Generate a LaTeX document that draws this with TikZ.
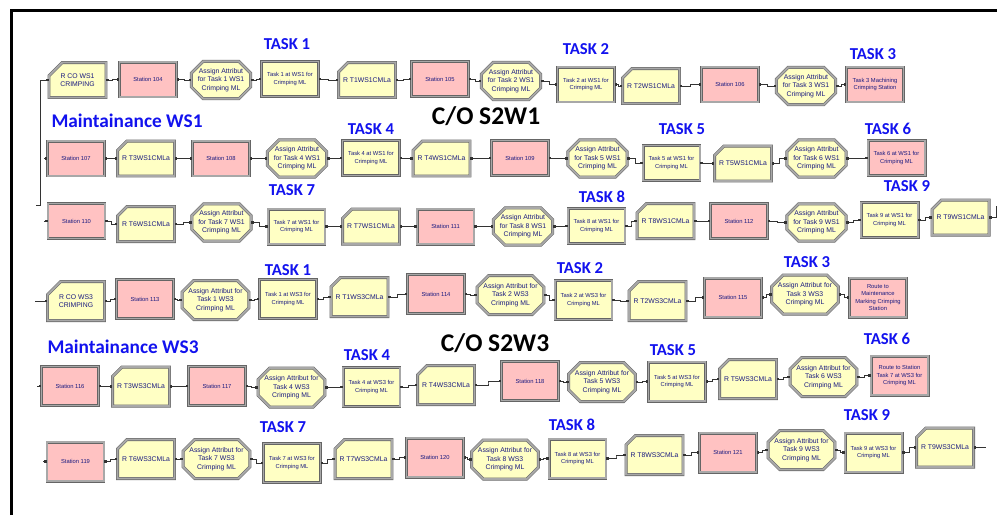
\documentclass[tikz,border=0pt]{standalone}
\usepackage{fontspec}
\setmainfont{Liberation Sans}
\newfontfamily\lblfont{Carlito}
\usetikzlibrary{shapes.misc,arrows.meta,positioning,calc}
\definecolor{modyellow}{HTML}{FFFFC4}
\definecolor{modpink}{HTML}{FFC2C2}
\definecolor{modedge}{HTML}{A8A8A8}
\definecolor{modtext}{HTML}{1A1A80}
\definecolor{taskblue}{HTML}{1212EE}
\newcommand\modh{0.7cm}

\begin{document}
\begin{tikzpicture}[
  x=0.02cm, y=0.02cm,
  mod/.style={draw=modedge!60!black, double=modedge, double distance=1.1pt,
              line width=0.3pt, minimum width=1.14cm, minimum height=\modh,
              inner sep=0.5pt, align=center, text=modtext,
              font=\fontsize{3.3}{4.2}\selectfont},
  stn/.style={mod,rectangle,fill=modpink},
  prc/.style={mod,rectangle,fill=modyellow},
  pnk/.style={prc,fill=modpink},
  rte/.style={mod,chamfered rectangle,chamfered rectangle corners=north west,
              chamfered rectangle xsep=0.14cm,fill=modyellow,
              font=\fontsize{3.9}{4.8}\selectfont},
  asg/.style={mod,chamfered rectangle,chamfered rectangle xsep=0.11cm,
              fill=modyellow,font=\fontsize{3.9}{4.8}\selectfont},
  task/.style={font=\lblfont\bfseries\fontsize{9.5}{11}\selectfont,
               text=taskblue,inner sep=0pt},
  hdr/.style={font=\lblfont\bfseries\fontsize{11}{13}\selectfont,
              text=taskblue,inner sep=0pt},
  co/.style={font=\lblfont\bfseries\fontsize{14.5}{16}\selectfont,inner sep=0pt},
  cn/.style={line width=0.45pt,black!80,
             {Square[length=1.4pt,width=1.4pt]}-{Square[length=1.4pt,width=1.4pt]}},
  elbow/.style={to path={-| ($(\tikztostart)!.5!(\tikztotarget)$) |- (\tikztotarget)}}
]
\useasboundingbox (0,0) rectangle (997,-515);
\draw[line width=1.8pt] (11.5,-515) |- (997,-10.5);

% C/O S2W1
\node[rte] (r1a) at (77.5,-80) {R CO WS1\\CRIMPING};
\node[stn] (r1b) at (148,-79.5) {Station 104};
\node[asg] (r1c) at (221,-80) {Assign Attribut\\for Task 1 WS1\\Crimping ML};
\node[prc] (r1d) at (290,-79) {Task 1 at WS1 for\\Crimping ML};
\node[rte] (r1e) at (367,-80) {R T1WS1CMLa};
\node[stn] (r1f) at (440,-79) {Station 105};
\node[asg] (r1g) at (511,-81) {Assign Attribut\\for Task 2 WS1\\Crimping ML};
\node[prc] (r1h) at (586,-84.5) {Task 2 at WS1 for\\Crimping ML};
\node[rte] (r1i) at (651,-86) {R T2WS1CMLa};
\node[stn] (r1j) at (730,-84.5) {Station 106};
\node[asg] (r1k) at (806,-86) {Assign Attribut\\for Task 3 WS1\\Crimping ML};
\node[pnk] (r1l) at (875,-84.5) {Task 3 Machining\\Crimping Station};

\node[stn] (r2a) at (76,-158.5) {Station 107};
\node[rte] (r2b) at (146,-158.5) {R T3WS1CMLa};
\node[stn] (r2c) at (221,-158.5) {Station 108};
\node[asg] (r2d) at (297,-158.5) {Assign Attribut\\for Task 4 WS1\\Crimping ML};
\node[prc] (r2e) at (371,-158) {Task 4 at WS1 for\\Crimping ML};
\node[rte] (r2f) at (441.5,-158.5) {R T4WS1CMLa};
\node[stn] (r2g) at (520,-158) {Station 109};
\node[asg] (r2h) at (597.5,-158.5) {Assign Attribut\\for Task 5 WS1\\Crimping ML};
\node[prc] (r2i) at (671.5,-163) {Task 5 at WS1 for\\Crimping ML};
\node[rte] (r2j) at (743,-163.5) {R T5WS1CMLa};
\node[asg] (r2k) at (816.5,-158.5) {Assign Attribut\\for Task 6 WS1\\Crimping ML};
\node[pnk] (r2l) at (896.5,-158) {Task 6 at WS1 for\\Crimping ML};

\node[stn] (r3a) at (76.5,-221) {Station 110};
\node[rte] (r3b) at (146,-224) {R T6WS1CMLa};
\node[asg] (r3c) at (221.5,-222.5) {Assign Attribut\\for Task 7 WS1\\Crimping ML};
\node[prc] (r3d) at (296.5,-226.5) {Task 7 at WS1 for\\Crimping ML};
\node[rte] (r3e) at (371,-226.5) {R T7WS1CMLa};
\node[stn] (r3f) at (445.5,-226.5) {Station 111};
\node[asg] (r3g) at (523,-226.5) {Assign Attribut\\for Task 8 WS1\\Crimping ML};
\node[prc] (r3h) at (596.5,-226) {Task 8 at WS1 for\\Crimping ML};
\node[rte] (r3i) at (665.5,-221) {R T8WS1CMLa};
\node[stn] (r3j) at (739,-221) {Station 112};
\node[asg] (r3k) at (816.5,-222.5) {Assign Attribut\\for Task 9 WS1\\Crimping ML};
\node[prc] (r3l) at (889.5,-220) {Task 9 at WS1 for\\Crimping ML};
\node[rte] (r3m) at (960.5,-217.5) {R T9WS1CMLa};

% C/O S2W3
\renewcommand\modh{0.78cm}
\node[rte] (r4a) at (76,-301) {R CO WS3\\CRIMPING};
\node[stn] (r4b) at (145,-299) {Station 113};
\node[asg] (r4c) at (215.5,-300) {Assign Attribut for\\Task 1 WS3\\Crimping ML};
\node[prc] (r4d) at (288,-299) {Task 1 at WS3 for\\Crimping ML};
\node[rte] (r4e) at (359.5,-297) {R T1WS3CMLa};
\node[stn] (r4f) at (436,-294) {Station 114};
\node[asg] (r4g) at (510.5,-295) {Assign Attribut for\\Task 2 WS3\\Crimping ML};
\node[prc] (r4h) at (583.5,-300) {Task 2 at WS3 for\\Crimping ML};
\node[rte] (r4i) at (657.5,-301) {R T2WS3CMLa};
\node[stn] (r4j) at (733,-297.5) {Station 115};
\node[asg] (r4k) at (805,-294.5) {Assign Attribut for\\Task 3 WS3\\Crimping ML};
\node[pnk] (r4l) at (878,-297.5) {Route to\\Maintenance\\Marking Crimping\\Station};

\node[stn] (r5a) at (70,-386) {Station 116};
\node[rte] (r5b) at (141,-386.5) {R T3WS3CMLa};
\node[stn] (r5c) at (217,-386) {Station 117};
\node[asg] (r5d) at (291.5,-387.5) {Assign Attribut for\\Task 4 WS3\\Crimping ML};
\node[prc] (r5e) at (371.5,-387) {Task 4 at WS3 for\\Crimping ML};
\node[rte] (r5f) at (446,-385) {R T4WS3CMLa};
\node[stn] (r5g) at (530,-381) {Station 118};
\node[asg] (r5h) at (602,-382) {Assign Attribut for\\Task 5 WS3\\Crimping ML};
\node[prc] (r5i) at (677,-381.5) {Task 5 at WS3 for\\Crimping ML};
\node[rte] (r5j) at (748,-379) {R T5WS3CMLa};
\node[asg] (r5k) at (823.5,-377) {Assign Attribut for\\Task 6 WS3\\Crimping ML};
\node[pnk] (r5l) at (899.5,-375.5) {Route to Station\\Task 7 at WS3 for\\Crimping ML};

\node[stn] (r6a) at (75.5,-461.5) {Station 119};
\node[rte] (r6b) at (146,-459) {R T6WS3CMLa};
\node[asg] (r6c) at (216.5,-459) {Assign Attribut for\\Task 7 WS3\\Crimping ML};
\node[prc] (r6d) at (292,-463) {Task 7 at WS3 for\\Crimping ML};
\node[rte] (r6e) at (363.5,-459) {R T7WS3CMLa};
\node[stn] (r6f) at (435,-457.5) {Station 120};
\node[asg] (r6g) at (505,-459.5) {Assign Attribut for\\Task 8 WS3\\Crimping ML};
\node[prc] (r6h) at (577.5,-458.5) {Task 8 at WS3 for\\Crimping ML};
\node[rte] (r6i) at (654.5,-455) {R T8WS3CMLa};
\node[stn] (r6j) at (728,-452.5) {Station 121};
\node[asg] (r6k) at (801.5,-450) {Assign Attribut for\\Task 9 WS3\\Crimping ML};
\node[prc] (r6l) at (873.5,-452.5) {Task 9 at WS3 for\\Crimping ML};
\node[rte] (r6m) at (945,-447.5) {R T9WS3CMLa};

% headings
\node[co] (co1) at (486,-116) {C/O S2W1};
\node[co] (co3) at (495,-343.5) {C/O S2W3};
\node[hdr] (mt1) at (127,-121) {Maintainance WS1};
\node[hdr] (mt3) at (123,-347) {Maintainance WS3};

\node[task,above=0.23cm of r1d,xshift=-0.06cm] (k11) {TASK 1};
\node[task,above=0.23cm of r1h] (k12) {TASK 2};
\node[task,above=0.13cm of r1l,xshift=-0.04cm] (k13) {TASK 3};
\node[task,above=0.11cm of r2e] (k14) {TASK 4};
\node[task,above=0.21cm of r2i,xshift=0.21cm] (k15) {TASK 5};
\node[task,above=0.11cm of r2l,xshift=-0.17cm] (k16) {TASK 6};
\node[task,above=0.25cm of r3d,xshift=-0.09cm] (k17) {TASK 7};
\node[task,above=0.11cm of r3h,xshift=0.11cm] (k18) {TASK 8};
\node[task,above=0.21cm of r3l,xshift=0.35cm] (k19) {TASK 9};
\node[task,above=0.07cm of r4d] (k31) {TASK 1};
\node[task,above=0.13cm of r4h,xshift=-0.07cm] (k32) {TASK 2};
\node[task,above=0.13cm of r4k,xshift=0.04cm] (k33) {TASK 3};
\node[task,above=0.13cm of r5e,xshift=-0.09cm] (k34) {TASK 4};
\node[task,above=0.11cm of r5i,xshift=-0.08cm] (k35) {TASK 5};
\node[task,above=0.21cm of r5l,xshift=-0.25cm] (k36) {TASK 6};
\node[task,above=0.21cm of r6d,xshift=-0.18cm] (k37) {TASK 7};
\node[task,above=0.15cm of r6h,xshift=-0.11cm] (k38) {TASK 8};
\node[task,above=0.23cm of r6l,xshift=-0.13cm] (k39) {TASK 9};

% connectors
\foreach \r in {1,...,6}
  \foreach \p/\q in {a/b,b/c,c/d,d/e,e/f,f/g,g/h,h/i,i/j,j/k,k/l}
    \draw[cn] (r\r\p.east) to[elbow] (r\r\q.west);
\draw[cn] (r3l.east) to[elbow] (r3m.west);
\draw[cn] (r6l.east) to[elbow] (r6m.west);

\coordinate (in1) at (36,-205);
\coordinate (in2) at (44,-158.5);
\coordinate (in3) at (44,-221);
\coordinate (in4) at (35,-301);
\coordinate (in5) at (37,-386);
\coordinate (in6) at (43,-461.5);
\coordinate (out1) at (996,-206);
\coordinate (out2) at (986,-447.5);
\draw[cn,-{Square[length=1.4pt,width=1.4pt]}] (in1) -- ++(4,0) |- (r1a.west);
\draw[cn,-{Square[length=1.4pt,width=1.4pt]}] (in2) -- (r2a.west);
\draw[cn,-{Square[length=1.4pt,width=1.4pt]}] (in3) -- (r3a.west);
\draw[cn,-{Square[length=1.4pt,width=1.4pt]}] (in4) -- (r4a.west);
\draw[cn,-{Square[length=1.4pt,width=1.4pt]}] (in5) -- (r5a.west);
\draw[cn,-{Square[length=1.4pt,width=1.4pt]}] (in6) -- (r6a.west);
\draw[cn,{Square[length=1.4pt,width=1.4pt]}-] (r3m.east) -| (out1);
\draw[cn,{Square[length=1.4pt,width=1.4pt]}-] (r6m.east) -- (out2);
\end{tikzpicture}
\end{document}
